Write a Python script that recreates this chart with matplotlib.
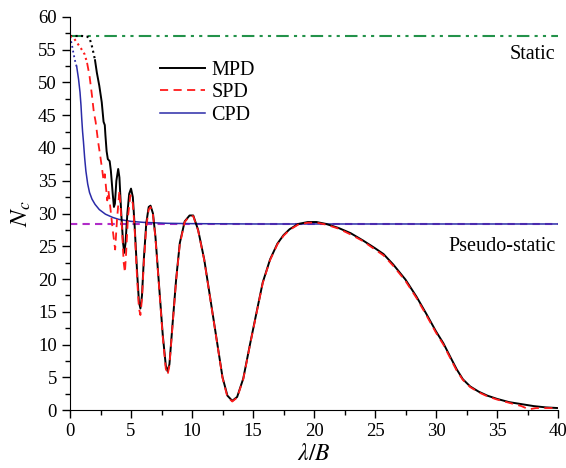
import matplotlib
matplotlib.use('Agg')
import matplotlib.pyplot as plt
from matplotlib.ticker import MultipleLocator

plt.rcParams['font.family'] = 'Liberation Serif'
plt.rcParams['mathtext.fontset'] = 'stix'

# reference levels
static_level = 57.1
pseudo_level = 28.4

# MPD (black): dotted start, then solid
mpd_x_dot = [0, 0.5, 1.0, 1.4, 1.6, 1.8, 1.95, 2.05]
mpd_y_dot = [57.1, 57.1, 57.1, 57.0, 56.8, 55.5, 54.3, 53.4]
mpd_x = [2.05, 2.2, 2.4, 2.6, 2.75, 2.85, 2.9, 3.0, 3.1, 3.25, 3.35, 3.5, 3.6, 3.68,
         3.8, 3.95, 4.05, 4.2, 4.35, 4.45, 4.55, 4.7, 4.85, 5.0, 5.15, 5.3, 5.5,
         5.65, 5.77, 5.9, 6.05, 6.25, 6.45, 6.6, 6.8, 7.0, 7.3, 7.6, 7.85, 8.0,
         8.15, 8.4, 8.7, 9.0, 9.4, 9.8, 10.1, 10.5, 11.0, 11.5, 12.0, 12.5, 12.9,
         13.3, 13.7, 14.2, 14.75, 15.3, 15.8, 16.4, 17.0, 17.5, 18.0, 18.7, 19.5,
         20.2, 21.0, 22.0, 23.0, 24.0, 25.0, 25.7, 26.5, 27.5, 28.4, 29.2, 30.0,
         30.6, 31.2, 31.7, 32.2, 32.8, 33.5, 34.2, 35.0, 36.0, 37.0, 38.0, 39.0, 40.0]
mpd_y = [53.4, 51.5, 49.5, 47.0, 44.0, 43.5, 42.0, 39.5, 38.3, 38.0, 36.5, 33.0, 31.0, 31.5,
         35.0, 36.8, 35.5, 30.0, 25.5, 24.0, 25.5, 30.0, 33.0, 33.8, 32.5, 28.0, 21.0,
         16.5, 15.5, 17.5, 23.0, 28.5, 31.0, 31.2, 30.0, 26.5, 19.0, 11.5, 6.8, 5.9,
         7.0, 13.0, 20.0, 25.5, 28.8, 29.7, 29.7, 27.5, 23.0, 17.0, 11.0, 5.0, 2.2,
         1.4, 2.0, 4.8, 10.0, 15.0, 19.5, 23.0, 25.4, 26.7, 27.6, 28.4, 28.7,
         28.7, 28.4, 27.8, 27.0, 25.9, 24.7, 23.8, 22.2, 19.9, 17.3, 14.7, 12.0,
         10.2, 8.0, 6.2, 4.7, 3.6, 2.8, 2.2, 1.7, 1.2, 0.9, 0.6, 0.4, 0.3]

# SPD (red): dotted start, then dashed
spd_x_dot = [0, 0.3, 0.6, 0.9, 1.2, 1.4]
spd_y_dot = [57.1, 56.8, 56.0, 55.2, 54.3, 53.0]
spd_x = [1.4, 1.6, 1.8, 1.95, 2.1, 2.3, 2.5, 2.65, 2.75, 2.85, 2.95, 3.05, 3.15, 3.3,
         3.5, 3.7, 3.85, 4.05, 4.25, 4.4, 4.5, 4.6, 4.75, 4.95, 5.15, 5.3, 5.5,
         5.65, 5.77, 5.9, 6.05, 6.25, 6.45, 6.6, 6.8, 7.0, 7.3, 7.6, 7.85, 8.0,
         8.15, 8.4, 8.7, 9.0, 9.4, 9.8, 10.1, 10.5, 11.0, 11.5, 12.0, 12.5, 12.9,
         13.3, 13.7, 14.2, 14.75, 15.3, 15.8, 16.4, 17.0, 17.5, 18.0, 18.7, 19.5,
         20.2, 21.0, 22.0, 23.0, 24.0, 25.0, 25.7, 26.5, 27.5, 28.4, 29.2, 30.0,
         30.6, 31.2, 31.7, 32.2, 32.8, 33.5, 34.2, 35.0, 36.0, 37.0, 37.6, 38.2, 39.0, 40.0]
spd_y = [53.0, 51.0, 48.0, 45.5, 44.0, 41.0, 38.5, 36.5, 35.0, 36.0, 34.0, 32.0, 33.5, 31.0,
         27.5, 24.5, 29.0, 33.5, 28.0, 22.5, 21.0, 24.0, 29.5, 32.8, 31.5, 27.5, 20.0,
         15.5, 14.5, 17.0, 22.5, 28.0, 30.6, 31.0, 29.8, 26.3, 18.8, 11.2, 6.3, 5.4,
         6.8, 12.8, 19.8, 25.3, 28.7, 29.6, 29.6, 27.4, 22.9, 16.9, 10.9, 4.9, 2.0,
         1.3, 1.9, 4.7, 9.9, 14.9, 19.4, 22.9, 25.3, 26.6, 27.5, 28.3, 28.6,
         28.6, 28.3, 27.7, 26.8, 25.8, 24.5, 23.6, 22.0, 19.7, 17.1, 14.5, 11.8,
         10.0, 7.8, 6.0, 4.6, 3.5, 2.7, 2.1, 1.6, 1.1, 0.6, 0.1, 0.3, 0.3, 0.3]

# CPD (blue): dotted start, then solid
cpd_x_dot = [0, 0.15, 0.3, 0.45, 0.55]
cpd_y_dot = [57.0, 55.8, 54.3, 53.0, 52.4]
cpd_x = [0.55, 0.7, 0.82, 0.9, 0.96, 1.03, 1.1, 1.2, 1.3, 1.45, 1.6, 1.8, 2.05, 2.4,
         2.9, 3.5, 4.0, 5.0, 6.0, 8.0, 10.0, 15.0, 20.0, 30.0, 40.0]
cpd_y = [52.4, 50.5, 48.5, 46.5, 44.5, 42.5, 41.0, 38.5, 36.5, 34.5, 33.2, 32.2, 31.4, 30.6,
         29.9, 29.4, 29.1, 28.8, 28.65, 28.5, 28.45, 28.4, 28.4, 28.4, 28.4]

fig = plt.figure(figsize=(5.66, 4.68), dpi=100)
ax = fig.add_axes([0.1237, 0.1239, 0.8622, 0.8398])

black = '#000000'
red = '#ff1a1a'
blue = '#2b2ba8'

ax.plot([0, 40], [static_level, static_level], color='#23924a', lw=1.5,
        linestyle=(0, (6, 2.5, 1.5, 2.5, 1.5, 2.5)))
ax.plot([0, 40], [pseudo_level, pseudo_level], color='#b02cc8', lw=1.5,
        linestyle=(0, (3.5, 2.5)))

ax.plot(mpd_x_dot, mpd_y_dot, color=black, lw=1.5, linestyle=':')
ax.plot(spd_x_dot, spd_y_dot, color=red, lw=1.5, linestyle=':')
ax.plot(cpd_x_dot, cpd_y_dot, color=blue, lw=1.3, linestyle=':')

ax.plot(mpd_x, mpd_y, color=black, lw=1.4, label='MPD', zorder=4)
ax.plot(spd_x, spd_y, color=red, lw=1.3, linestyle=(0, (4.5, 3)), label='SPD', zorder=5)
ax.plot(cpd_x, cpd_y, color=blue, lw=1.1, label='CPD', zorder=3)

ax.set_xlim(0, 40)
ax.set_ylim(0, 60)
ax.xaxis.set_major_locator(MultipleLocator(5))
ax.xaxis.set_minor_locator(MultipleLocator(2.5))
ax.yaxis.set_major_locator(MultipleLocator(5))
ax.yaxis.set_minor_locator(MultipleLocator(2.5))
ax.spines['top'].set_visible(False)
ax.spines['right'].set_visible(False)
ax.tick_params(which='major', direction='out', length=6, width=1, labelsize=13.5)
ax.tick_params(which='minor', direction='out', length=3.5, width=1)

ax.set_xlabel(r'$\lambda/B$', fontsize=17, labelpad=3)
ax.set_ylabel(r'$N_c$', fontsize=18, labelpad=4)

ax.text(39.8, 54.2, 'Static', fontsize=14.5, ha='right', va='center')
ax.text(39.8, 24.9, 'Pseudo-static', fontsize=14.5, ha='right', va='center')

ax.legend(loc='upper left', bbox_to_anchor=(0.164, 0.913), frameon=False,
          fontsize=14.5, handlelength=2.25, handletextpad=0.3, labelspacing=0.15,
          borderpad=0)

fig.savefig('out.png', dpi=100)
